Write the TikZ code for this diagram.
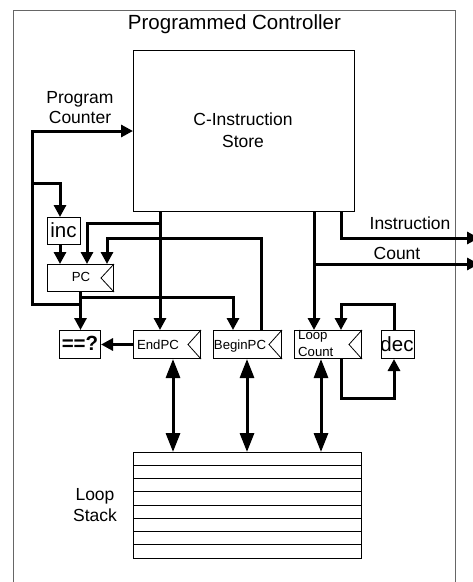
\documentclass[tikz,border=0pt]{standalone}
\usepackage{fontspec}
\setmainfont{Liberation Sans}
\usetikzlibrary{arrows.meta,calc}
\newcommand\szA{\fontsize{20.5}{24}\selectfont}
\newcommand\szB{\fontsize{17.5}{21}\selectfont}
\newcommand\szC{\fontsize{13.2}{16}\selectfont}
\begin{document}
\begin{tikzpicture}[x=1pt,y=-1pt,
  box/.style={draw, line width=1pt, inner sep=0pt, anchor=north west, minimum width=#1},
  box/.default=30pt,
  txt/.style={inner sep=0pt, anchor=base},
  wire/.style={line width=3pt},
  arr/.style={wire, -{Triangle[length=12pt,width=12pt]}},
  darr/.style={wire, {Triangle[length=19pt,width=14pt]}-{Triangle[length=19pt,width=14pt]}},
  clk/.style={line width=0.8pt},
  frame/.style={draw=black!60, line width=1pt}]
\useasboundingbox (0,0) rectangle (473,582);
% frame
\draw[frame] (13,590) -- (13,10) -- (455,10) -- (455,590);
\node[txt] (title) at (234.5,29) {\szA Programmed Controller};
% boxes
\node[box=221pt, minimum height=161pt] (store) at (133,50) {};
\node[box=33pt, minimum height=27pt] (inc) at (47,217) {};
\node[box=66pt, minimum height=27pt] (pc) at (47,264) {};
\node[box=41pt, minimum height=28pt] (eq) at (59,330) {};
\node[box=67pt, minimum height=28pt] (endpc) at (133,330) {};
\node[box=68pt, minimum height=28pt] (beginpc) at (213,330) {};
\node[box=67pt, minimum height=28pt] (loopcount) at (294,330) {};
\node[box=33pt, minimum height=28pt] (dec) at (381,330) {};
\node[box=228pt, minimum height=106pt] (stack) at (133,452) {};
\foreach \k in {1,...,7}{\draw[line width=1pt] ($(stack.north west)+(0,\k*13.25)$) -- ($(stack.north east)+(0,\k*13.25)$);}
% clock marks
\foreach \b in {pc,endpc,beginpc,loopcount}{
  \draw[clk] (\b.north east) -- ($(\b.east)+(-13,0)$) -- (\b.south east);}
% texts
\node[txt] (t1) at (243,125) {\szB C-Instruction};
\node[txt] (t2) at (243,147) {\szB Store};
\node[txt] (t3) at (80,103) {\szB Program};
\node[txt] (t4) at (80,123) {\szB Counter};
\node[txt] (t5) at (410,229) {\szB Instruction};
\node[txt] (t6) at (397,259) {\szB Count};
\node[txt] (t7) at (63.5,237) {\szA inc};
\node[txt] (t8) at (81,281) {\szC PC};
\node[txt] (t9) at (80,350) {\szA\bfseries ==?};
\node[txt] (t10) at (158,349) {\szC EndPC};
\node[txt] (t11) at (240,349) {\szC BeginPC};
\node[txt, anchor=base west] (t12) at (298,339) {\szC Loop};
\node[txt, anchor=base west] (t13) at (298,356) {\szC Count};
\node[txt] (t14) at (397,351) {\szA dec};
\node[txt] (t15) at (95,500) {\szB Loop};
\node[txt] (t16) at (95,521) {\szB Stack};
% junction coordinates
\coordinate (xa) at (32,0);
\coordinate (xi) at (60,0);
\coordinate (xp1) at (87,0);
\coordinate (xp2) at (107,0);
\coordinate (xe) at (160,0);
\coordinate (xb) at (233,0);
\coordinate (xbo) at (261,0);
\coordinate (xl) at (314,0);
\coordinate (xs) at (341,0);
\coordinate (xd) at (394,0);
\coordinate (xr) at (479,0);
\coordinate (ypc) at (0,131);
\coordinate (yinc) at (0,183);
\coordinate (yp1) at (0,223);
\coordinate (yins) at (0,238);
\coordinate (ycnt) at (0,264);
\coordinate (yfb) at (0,297);
\coordinate (yloop) at (0,304);
\coordinate (ylow) at (0,398);
% wires
\draw[arr] (pc.south) -- (pc.south |- eq.north);
\draw[arr] (pc.south |- yloop) -- (xa |- yloop) -- (xa |- ypc) -- (store.west |- ypc);
\draw[arr] (xa |- yinc) -- (xi |- yinc) -- (xi |- inc.north);
\draw[arr] (xi |- inc.south) -- (xi |- pc.north);
\draw[arr] (xe |- yp1) -- (xp1 |- yp1) -- (xp1 |- pc.north);
\draw[arr] (xbo |- beginpc.north) -- (xbo |- yins) -- (xp2 |- yins) -- (xp2 |- pc.north);
\draw[arr] (pc.south |- yfb) -- (xb |- yfb) -- (xb |- beginpc.north);
\draw[arr] (xe |- store.south) -- (xe |- endpc.north);
\draw[arr] (endpc.west) -- (eq.east);
\draw[arr] (xl |- store.south) -- (xl |- loopcount.north);
\draw[arr] (xl |- ycnt) -- (xr |- ycnt);
\draw[arr] (xs |- store.south) -- (xs |- yins) -- (xr |- yins);
\draw[arr] (xd |- dec.north) -- (xd |- yloop) -- (xs |- yloop) -- (xs |- loopcount.north);
\draw[arr] (xs |- loopcount.south) -- (xs |- ylow) -- (xd |- ylow) -- (xd |- dec.south);
\coordinate (d1) at (173,0);
\coordinate (d2) at (247,0);
\coordinate (d3) at (321,0);
\draw[darr] (d1 |- endpc.south) -- (d1 |- stack.north);
\draw[darr] (d2 |- beginpc.south) -- (d2 |- stack.north);
\draw[darr] (d3 |- loopcount.south) -- (d3 |- stack.north);
\end{tikzpicture}
\end{document}
